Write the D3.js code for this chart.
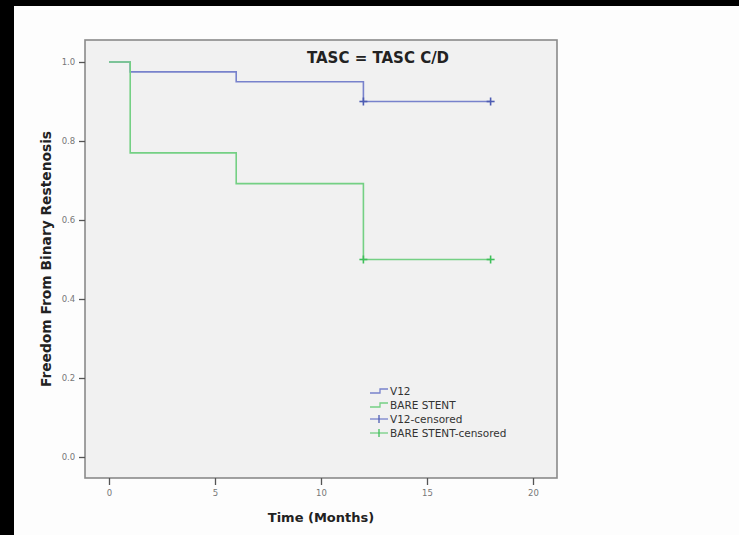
<!DOCTYPE html>
<html>
<head>
<meta charset="utf-8">
<script src="https://cdn.jsdelivr.net/npm/d3@7/dist/d3.min.js"></script>
<style>
html,body{margin:0;padding:0;background:#fdfdfd;}
svg{display:block;}
</style>
</head>
<body>
<svg id="chart" width="739" height="535"></svg>
<script>
// ---- data ----
const seriesNames = ["V12", "BARE STENT"];
const timesV12 = [0, 1, 6, 12, 18];
const survV12 = [1.0, 0.975, 0.95, 0.90, 0.90];
const timesBare = [0, 1, 6, 12, 18];
const survBare = [1.0, 0.77, 0.692, 0.50, 0.50];
const censTimesV12 = [12, 18];
const censSurvV12 = [0.90, 0.90];
const censTimesBare = [12, 18];
const censSurvBare = [0.50, 0.50];
const xTicks = [0, 5, 10, 15, 20];
const yTicks = [0.0, 0.2, 0.4, 0.6, 0.8, 1.0];
const legendLabels = ["V12", "BARE STENT", "V12-censored", "BARE STENT-censored"];
const titleText = "TASC = TASC C/D";
const xLabel = "Time (Months)";
const yLabel = "Freedom From Binary Restenosis";

// ---- styles ----
const lineColors = ["#7882cc", "#74d084"];
const censColors = ["#4d5cb3", "#3fbf5a"];
const font = "'DejaVu Sans', sans-serif";

const svg = d3.select("#chart");
svg.append("rect").attr("x",0).attr("y",0).attr("width",739).attr("height",535).attr("fill","#fdfdfd");
svg.append("rect").attr("x",0).attr("y",0).attr("width",739).attr("height",6).attr("fill","#000");
svg.append("rect").attr("x",0).attr("y",0).attr("width",14).attr("height",535).attr("fill","#000");

const plot = {left: 85, top: 40, right: 557, bottom: 478};
const x = d3.scaleLinear().domain([0, 20]).range([109, 533]);
const y = d3.scaleLinear().domain([0, 1]).range([457, 62]);

svg.append("rect")
  .attr("x", plot.left).attr("y", plot.top)
  .attr("width", plot.right - plot.left).attr("height", plot.bottom - plot.top)
  .attr("fill", "#f1f1f1").attr("stroke", "#8a8a8a").attr("stroke-width", 1.6);

// axes
const xAxis = d3.axisBottom(x).tickValues(xTicks).tickFormat(d3.format("d")).tickSize(7).tickSizeOuter(0);
const gx = svg.append("g").attr("transform", `translate(0,${plot.bottom})`).call(xAxis);
gx.select(".domain").remove();
gx.selectAll(".tick line").attr("stroke", "#555").attr("stroke-width", 1.3);
gx.selectAll(".tick text").attr("fill", "#777").attr("font-size", 8.5).attr("font-family", font).attr("dy", "0.95em");

const yAxis = d3.axisLeft(y).tickValues(yTicks).tickFormat(d3.format(".1f")).tickSize(6).tickSizeOuter(0);
const gy = svg.append("g").attr("transform", `translate(${plot.left},0)`).call(yAxis);
gy.select(".domain").remove();
gy.selectAll(".tick line").attr("stroke", "#555").attr("stroke-width", 1.3);
gy.selectAll(".tick text").attr("fill", "#777").attr("font-size", 8.5).attr("font-family", font).attr("dx", "-0.1em");

// lines
const line = d3.line().x(d => x(d[0])).y(d => y(d[1])).curve(d3.curveStepAfter);
const series = [
  {pts: d3.zip(timesV12, survV12), cens: d3.zip(censTimesV12, censSurvV12)},
  {pts: d3.zip(timesBare, survBare), cens: d3.zip(censTimesBare, censSurvBare)}
];
series.forEach((s, i) => {
  svg.append("path").datum(s.pts).attr("d", line)
    .attr("fill", "none").attr("stroke", lineColors[i]).attr("stroke-width", 1.6);
});
series.forEach((s, i) => {
  const g = svg.append("g");
  s.cens.forEach(c => {
    const cx = x(c[0]), cy = y(c[1]);
    g.append("line").attr("x1", cx).attr("x2", cx).attr("y1", cy - 4).attr("y2", cy + 4)
      .attr("stroke", censColors[i]).attr("stroke-width", 1.6);
    g.append("line").attr("x1", cx - 4).attr("x2", cx + 4).attr("y1", cy).attr("y2", cy)
      .attr("stroke", censColors[i]).attr("stroke-width", 1.6);
  });
});

// title
svg.append("text").attr("x", 378).attr("y", 63).attr("text-anchor", "middle")
  .attr("font-family", font).attr("font-weight", "bold").attr("font-size", 15).attr("fill", "#222")
  .text(titleText);

// axis labels
svg.append("text").attr("x", 321).attr("y", 522).attr("text-anchor", "middle")
  .attr("font-family", font).attr("font-weight", "bold").attr("font-size", 13).attr("fill", "#222")
  .text(xLabel);
svg.append("text").attr("transform", "translate(51,259) rotate(-90)").attr("text-anchor", "middle")
  .attr("font-family", font).attr("font-weight", "bold").attr("font-size", 13.8).attr("fill", "#222")
  .text(yLabel);

// legend
const lgX = 370, lgY0 = 391, lgStep = 14;
legendLabels.forEach((lab, i) => {
  const yy = lgY0 + i * lgStep;
  const ci = i % 2;
  const g = svg.append("g");
  if (i < 2) {
    g.append("path").attr("d", `M${lgX},${yy + 2}H${lgX + 10}V${yy - 2}H${lgX + 18}`)
      .attr("fill", "none").attr("stroke", lineColors[ci]).attr("stroke-width", 1.3);
  } else {
    g.append("line").attr("x1", lgX).attr("x2", lgX + 18).attr("y1", yy).attr("y2", yy)
      .attr("stroke", lineColors[ci]).attr("stroke-width", 1.3);
    g.append("line").attr("x1", lgX + 9).attr("x2", lgX + 9).attr("y1", yy - 4).attr("y2", yy + 4)
      .attr("stroke", censColors[ci]).attr("stroke-width", 1.3);
  }
  g.append("text").attr("x", lgX + 20).attr("y", yy + 3.5)
    .attr("font-family", font).attr("font-size", 10.5).attr("fill", "#333").text(lab);
});
</script>
</body>
</html>
